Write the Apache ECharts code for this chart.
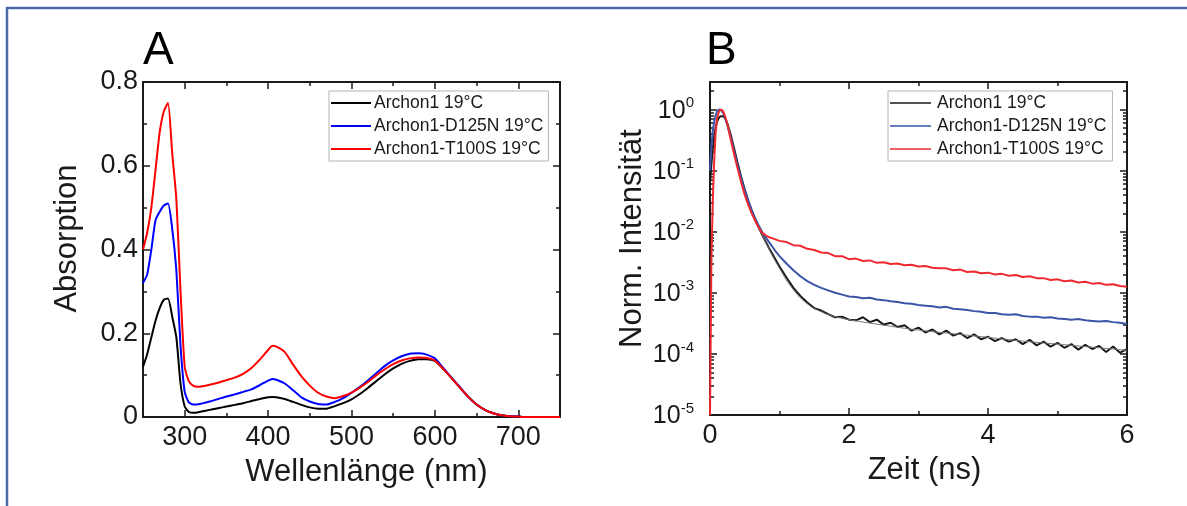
<!DOCTYPE html>
<html>
<head>
<meta charset="utf-8">
<title>Archon1 Absorption / Fluoreszenz</title>
<script src="https://cdn.jsdelivr.net/npm/echarts@6/dist/echarts.min.js"></script>
<style>
  html, body { margin: 0; padding: 0; background: #fff; }
  #main { width: 1187px; height: 506px; }
</style>
</head>
<body>
<div id="main"></div>
<script>
// --- A: Absorptionsspektren ---
var wavelength = [250, 255, 260, 265, 270, 275, 280, 285, 290, 295, 300, 305, 310, 315, 320,
    330, 340, 350, 360, 370, 380, 390, 400, 405,
    410, 420, 430, 440, 450, 460, 470, 480, 490, 500, 510, 520, 530, 540, 550, 560, 570, 580,
    590, 600, 610, 620, 630, 640, 650, 660, 670, 680, 690, 700, 710, 720, 730, 740, 750];
var absArchon1 = [0.12, 0.15, 0.19, 0.23, 0.26, 0.28, 0.283, 0.24, 0.19, 0.08, 0.025, 0.012, 0.01, 0.011, 0.013,
    0.017, 0.021, 0.025, 0.029, 0.033, 0.038, 0.043, 0.047, 0.048,
    0.047, 0.043, 0.036, 0.029, 0.023, 0.02, 0.02, 0.026, 0.033, 0.042, 0.055, 0.07, 0.086, 0.102, 0.116, 0.127, 0.134, 0.138,
    0.138, 0.134, 0.115, 0.093, 0.07, 0.048, 0.03, 0.017, 0.009, 0.004, 0.002, 0.001, 0, 0, 0, 0, 0];
var absD125N = [0.32, 0.34, 0.40, 0.47, 0.49, 0.505, 0.51, 0.45, 0.35, 0.17, 0.06, 0.035, 0.03, 0.03, 0.032,
    0.037, 0.043, 0.049, 0.054, 0.06, 0.066, 0.076, 0.087, 0.091,
    0.089, 0.08, 0.064, 0.047, 0.037, 0.031, 0.03, 0.036, 0.045, 0.058, 0.072, 0.088, 0.105, 0.122, 0.135, 0.145, 0.151, 0.152,
    0.149, 0.14, 0.117, 0.094, 0.071, 0.048, 0.03, 0.017, 0.009, 0.004, 0.002, 0.001, 0, 0, 0, 0, 0];
var absT100S = [0.40, 0.44, 0.50, 0.59, 0.68, 0.73, 0.75, 0.63, 0.52, 0.30, 0.12, 0.085, 0.075, 0.072, 0.073,
    0.077, 0.082, 0.088, 0.094, 0.103, 0.117, 0.137, 0.16, 0.17,
    0.168, 0.155, 0.125, 0.097, 0.075, 0.058, 0.049, 0.045, 0.05, 0.058, 0.07, 0.084, 0.1, 0.114, 0.126, 0.135, 0.14, 0.142,
    0.141, 0.135, 0.115, 0.093, 0.07, 0.048, 0.03, 0.017, 0.009, 0.004, 0.002, 0.001, 0, 0, 0, 0, 0];
var absTicksX = [300, 400, 500, 600, 700];

// --- B: Fluoreszenzzerfall, log10 der normierten Intensitaet ---
var zeit = [0, 0.02, 0.04, 0.06, 0.08, 0.1, 0.13, 0.16, 0.19, 0.22, 0.25, 0.3, 0.35, 0.4, 0.45, 0.5,
    0.55, 0.6, 0.65, 0.7, 0.75, 0.8, 0.85, 0.9, 0.95, 1.0,
    1.1, 1.2, 1.3, 1.4, 1.5, 1.6, 1.7, 1.8, 1.9, 2.0,
    2.1, 2.2, 2.3, 2.4, 2.5, 2.6, 2.7, 2.8, 2.9, 3.0,
    3.1, 3.2, 3.3, 3.4, 3.5, 3.6, 3.7, 3.8, 3.9, 4.0,
    4.1, 4.2, 4.3, 4.4, 4.5, 4.6, 4.7, 4.8, 4.9, 5.0,
    5.1, 5.2, 5.3, 5.4, 5.5, 5.6, 5.7, 5.8, 5.9, 6.0];
var logArchon1 = [-1.2, -0.9, -0.65, -0.45, -0.3, -0.2, -0.13, -0.11, -0.11, -0.15, -0.23, -0.42, -0.65, -0.89, -1.11, -1.31,
    -1.49, -1.65, -1.8, -1.93, -2.05, -2.16, -2.27, -2.37, -2.47, -2.57,
    -2.75, -2.92, -3.05, -3.16, -3.25, -3.29, -3.35, -3.40, -3.39, -3.44,
    -3.45, -3.40, -3.48, -3.44, -3.52, -3.49, -3.56, -3.53, -3.62, -3.57,
    -3.65, -3.60, -3.68, -3.62, -3.70, -3.66, -3.74, -3.68, -3.76, -3.72,
    -3.79, -3.74, -3.80, -3.76, -3.84, -3.77, -3.86, -3.80, -3.88, -3.82,
    -3.90, -3.84, -3.93, -3.85, -3.92, -3.87, -3.97, -3.88, -3.98, -3.92];
var logD125N = [-1.0, -0.6, -0.35, -0.2, -0.1, -0.04, 0, -0.01, -0.06, -0.15, -0.26, -0.46, -0.7, -0.93, -1.14, -1.33,
    -1.5, -1.65, -1.78, -1.9, -2.0, -2.09, -2.17, -2.25, -2.33, -2.40,
    -2.52, -2.63, -2.73, -2.81, -2.87, -2.92, -2.96, -3.0, -3.03, -3.06,
    -3.07, -3.09, -3.08, -3.11, -3.12, -3.14, -3.15, -3.17, -3.18, -3.20,
    -3.21, -3.22, -3.24, -3.23, -3.26, -3.27, -3.28, -3.30, -3.31, -3.33,
    -3.33, -3.35, -3.36, -3.35, -3.38, -3.39, -3.39, -3.41, -3.40, -3.42,
    -3.43, -3.44, -3.43, -3.45, -3.46, -3.47, -3.46, -3.48, -3.49, -3.51];
var logT100S = [-5, -2.5, -1.5, -0.85, -0.4, -0.15, -0.03, 0, -0.03, -0.12, -0.24, -0.5, -0.75, -0.98, -1.2, -1.4,
    -1.56, -1.7, -1.82, -1.93, -2.02, -2.06, -2.09, -2.11, -2.13, -2.15,
    -2.17, -2.22, -2.23, -2.28, -2.30, -2.34, -2.35, -2.40, -2.40, -2.45,
    -2.44, -2.48, -2.47, -2.51, -2.50, -2.53, -2.52, -2.55, -2.54, -2.57,
    -2.56, -2.59, -2.60, -2.60, -2.63, -2.62, -2.66, -2.65, -2.68, -2.67,
    -2.70, -2.69, -2.72, -2.71, -2.74, -2.73, -2.76, -2.76, -2.79, -2.78,
    -2.81, -2.80, -2.83, -2.82, -2.85, -2.84, -2.87, -2.86, -2.89, -2.90];
// Fit-Kurve fuer Archon1
var fitZeit = [0.6, 0.8, 1.0, 1.2, 1.4, 1.6, 1.8, 2.0, 2.5, 3.0, 3.5, 4.0, 4.5, 5.0, 5.5, 6.0];
var fitArchon1 = [-1.66, -2.17, -2.6, -2.95, -3.18, -3.31, -3.39, -3.44, -3.53, -3.61, -3.67, -3.73, -3.79, -3.84, -3.89, -3.94];
var decades = [-5, -4, -3, -2, -1, 0];

var names = ['Archon1 19°C', 'Archon1-D125N 19°C', 'Archon1-T100S 19°C'];

var FONT = '"Liberation Sans", Arial, sans-serif';
var INK = '#1a1a1a';

function pairs(xs, ys) {
    return xs.map(function (x, i) { return [x, ys[i]]; });
}

// log minor ticks: 2..9 in each decade
var logMinor = [];
decades.forEach(function (d) {
    for (var k = 2; k <= 9; k++) {
        var v = d + Math.log10(k);
        if (v <= 0.45) logMinor.push(v);
    }
});

// one axis = one job: labels+line, major ticks or minor ticks
function ax(grid, pos, range, o) {
    var a = {
        type: 'value', gridIndex: grid, position: pos,
        min: range[0], max: range[1], interval: o.interval,
        axisLine: { show: !!o.line, onZero: false, lineStyle: { color: INK, width: 2 } },
        axisTick: { show: !!o.len, inside: true, length: o.len || 0, lineStyle: { color: INK, width: 1.5 } },
        axisLabel: o.label || { show: false },
        splitLine: { show: false }
    };
    if (o.ticks) a.axisTick.customValues = o.ticks;
    if (o.name) {
        a.name = o.name;
        a.nameLocation = 'middle';
        a.nameGap = o.nameGap;
        a.nameTextStyle = { fontFamily: FONT, fontSize: 31, color: INK, padding: o.pad };
    }
    return a;
}

var tickFont = { fontFamily: FONT, fontSize: 27, color: INK };

var myChart = echarts.init(document.getElementById('main'));

var xRangeA = [250, 750], yRangeA = [0, 0.8];
var xRangeB = [0, 6], yRangeB = [-5, 0.45];

var option = {
    animation: false,
    backgroundColor: '#fff',
    grid: [
        { left: 143, top: 82, width: 417, height: 335 },
        { left: 710, top: 82, width: 417, height: 333 }
    ],
    xAxis: [
        ax(0, 'bottom', xRangeA, {
            interval: 50, line: true,
            label: Object.assign({ customValues: absTicksX, margin: 7,
                formatter: function (v) { return v % 100 === 0 ? v : ''; } }, tickFont),
            name: 'Wellenlänge (nm)', nameGap: 40, pad: [0, 0, 0, 30]
        }),
        ax(0, 'bottom', xRangeA, { interval: 50, len: 7, ticks: absTicksX }),
        ax(0, 'bottom', xRangeA, { interval: 50, len: 4 }),
        ax(0, 'top', xRangeA, { interval: 50, line: true, len: 7, ticks: absTicksX }),
        ax(0, 'top', xRangeA, { interval: 50, len: 4 }),

        ax(1, 'bottom', xRangeB, {
            interval: 2, line: true,
            label: Object.assign({ margin: 7 }, tickFont),
            name: 'Zeit (ns)', nameGap: 40, pad: [0, 0, 0, 12]
        }),
        ax(1, 'bottom', xRangeB, { interval: 2, len: 7 }),
        ax(1, 'bottom', xRangeB, { interval: 1, len: 4 }),
        ax(1, 'top', xRangeB, { interval: 2, line: true, len: 7 }),
        ax(1, 'top', xRangeB, { interval: 1, len: 4 })
    ],
    yAxis: [
        ax(0, 'left', yRangeA, {
            interval: 0.2, line: true,
            label: Object.assign({ margin: 5 }, tickFont),
            name: 'Absorption', nameGap: 60, pad: [0, 0, 0, 22]
        }),
        ax(0, 'left', yRangeA, { interval: 0.2, len: 7 }),
        ax(0, 'left', yRangeA, { interval: 0.1, len: 4 }),
        ax(0, 'right', yRangeA, { interval: 0.2, line: true, len: 7 }),
        ax(0, 'right', yRangeA, { interval: 0.1, len: 4 }),

        ax(1, 'left', yRangeB, {
            interval: 1, line: true,
            label: {
                customValues: decades, margin: 16, color: INK,
                formatter: function (v) {
                    if (Math.round(v) !== v) return '';
                    return '{b|10}{s|' + v + '}';
                },
                rich: {
                    b: { fontFamily: FONT, fontSize: 25, color: INK, verticalAlign: 'bottom', lineHeight: 28 },
                    s: { fontFamily: FONT, fontSize: 15, color: INK, verticalAlign: 'top', lineHeight: 16 }
                }
            },
            name: 'Norm. Intensität', nameGap: 62, pad: [0, 0, 0, 20]
        }),
        ax(1, 'left', yRangeB, { interval: 1, len: 7, ticks: decades }),
        ax(1, 'left', yRangeB, { interval: 1, len: 4, ticks: logMinor }),
        ax(1, 'right', yRangeB, { interval: 1, line: true, len: 7, ticks: decades }),
        ax(1, 'right', yRangeB, { interval: 1, len: 4, ticks: logMinor })
    ],
    legend: [
        {
            orient: 'vertical', left: 329, top: 91, icon: 'rect',
            padding: [3, 5, 3, 2], itemGap: 5, itemWidth: 40, itemHeight: 2,
            borderColor: '#b4b4b4', borderWidth: 1,
            textStyle: { fontFamily: FONT, fontSize: 17.5, lineHeight: 17, color: INK, padding: [0, 0, 0, -2] },
            data: names
        },
        {
            orient: 'vertical', left: 888, top: 91, icon: 'rect',
            padding: [3, 6, 3, 2], itemGap: 5, itemWidth: 41, itemHeight: 1.5,
            borderColor: '#b4b4b4', borderWidth: 1,
            textStyle: { fontFamily: FONT, fontSize: 17.5, lineHeight: 17, color: INK, padding: [0, 0, 0, 1] },
            data: [
                { name: names[0], itemStyle: { color: '#1a1a1a' } },
                { name: names[1], itemStyle: { color: '#3a55a6' } },
                { name: names[2], itemStyle: { color: '#ee2a30' } }
            ]
        }
    ],
    graphic: [
        { type: 'rect', shape: { x: 7, y: 8, width: 1300, height: 600 },
          style: { fill: 'none', stroke: '#4b6aa8', lineWidth: 2.5 }, silent: true },
        { type: 'text', left: 143, top: 28, style: { text: 'A', font: '46px ' + FONT, fill: '#000' } },
        { type: 'text', left: 706, top: 28, style: { text: 'B', font: '46px ' + FONT, fill: '#000' } }
    ],
    series: [
        { name: names[0], type: 'line', xAxisIndex: 0, yAxisIndex: 0, symbol: 'none', smooth: 0.2,
          lineStyle: { color: '#000', width: 2 }, itemStyle: { color: '#000' }, data: pairs(wavelength, absArchon1) },
        { name: names[1], type: 'line', xAxisIndex: 0, yAxisIndex: 0, symbol: 'none', smooth: 0.2,
          lineStyle: { color: '#0000ff', width: 2 }, itemStyle: { color: '#0000ff' }, data: pairs(wavelength, absD125N) },
        { name: names[2], type: 'line', xAxisIndex: 0, yAxisIndex: 0, symbol: 'none', smooth: 0.2,
          lineStyle: { color: '#ff0000', width: 2 }, itemStyle: { color: '#ff0000' }, data: pairs(wavelength, absT100S) },

        { name: names[0], type: 'line', xAxisIndex: 5, yAxisIndex: 5, symbol: 'none',
          lineStyle: { color: '#1a1a1a', width: 2 }, itemStyle: { color: '#1a1a1a' }, data: pairs(zeit, logArchon1) },
        { name: 'Fit', type: 'line', xAxisIndex: 5, yAxisIndex: 5, symbol: 'none', smooth: true,
          lineStyle: { color: '#777', width: 1 }, data: pairs(fitZeit, fitArchon1) },
        { name: names[1], type: 'line', xAxisIndex: 5, yAxisIndex: 5, symbol: 'none',
          lineStyle: { color: '#3a55a6', width: 2 }, itemStyle: { color: '#3a55a6' }, data: pairs(zeit, logD125N) },
        { name: names[2], type: 'line', xAxisIndex: 5, yAxisIndex: 5, symbol: 'none',
          lineStyle: { color: '#ee2a30', width: 2 }, itemStyle: { color: '#ee2a30' }, data: pairs(zeit, logT100S) }
    ]
};

myChart.setOption(option);
</script>
</body>
</html>
